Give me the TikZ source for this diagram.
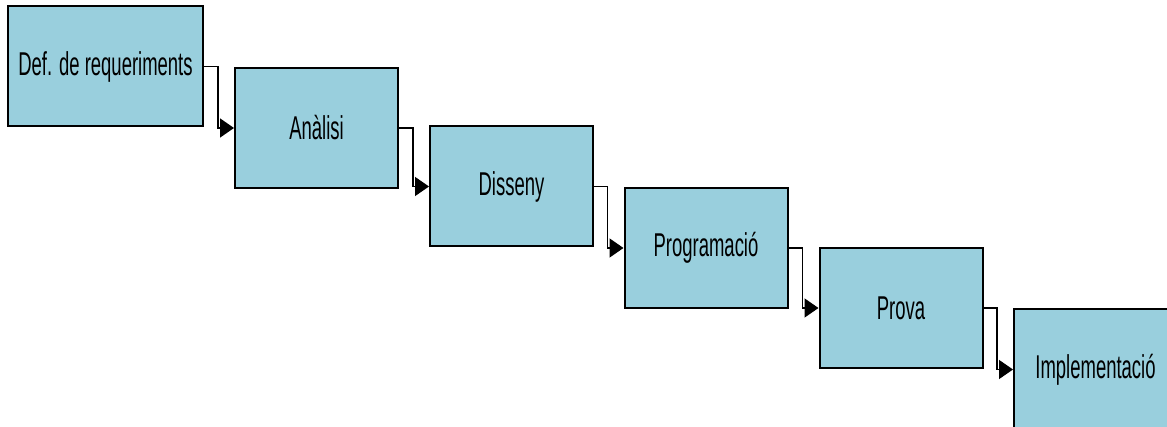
\documentclass[tikz,border=0pt]{standalone}
\usepackage{fontspec}
\setmainfont{Liberation Sans}
\usetikzlibrary{arrows.meta}
\definecolor{boxfill}{RGB}{153,207,221}
\tikzset{
  stage/.style={draw=black, line width=2pt, fill=boxfill, minimum width=163pt, minimum height=120pt, inner sep=0pt, anchor=center},
  flow/.style={draw=black, line width=1.5pt, -{Triangle[length=14pt,width=19pt]}}
}
\newcommand{\lbl}[1]{\scalebox{0.56}[1]{\fontsize{33}{39}\selectfont #1}}
\begin{document}
\begin{tikzpicture}[x=1pt,y=-1pt]
\useasboundingbox (0,0) rectangle (1167,427);
\clip (0,0) rectangle (1167,427);
\fill[white] (0,0) rectangle (1167,427);
\node[stage, minimum width=195pt, minimum height=120pt] (b1) at (105.5,66.5) {\lbl{Def. de requeriments}};
\node[stage] (b2) at (316.5,128) {\lbl{Anàlisi}};
\node[stage] (b3) at (511.5,186.5) {\lbl{Disseny}};
\node[stage] (b4) at (706,248) {\lbl{Programació}};
\node[stage] (b5) at (901,308) {\lbl{Prova}};
\node[stage] (b6) at (1095.5,369.5) {\lbl{Implementació}};
\draw[flow] (b1.east) -| ([xshift=-16pt]b2.west) -- (b2.west);
\draw[flow] (b2.east) -| ([xshift=-16pt]b3.west) -- (b3.west);
\draw[flow] (b3.east) -| ([xshift=-16pt]b4.west) -- (b4.west);
\draw[flow] (b4.east) -| ([xshift=-16pt]b5.west) -- (b5.west);
\draw[flow] (b5.east) -| ([xshift=-16pt]b6.west) -- (b6.west);
\end{tikzpicture}
\end{document}
